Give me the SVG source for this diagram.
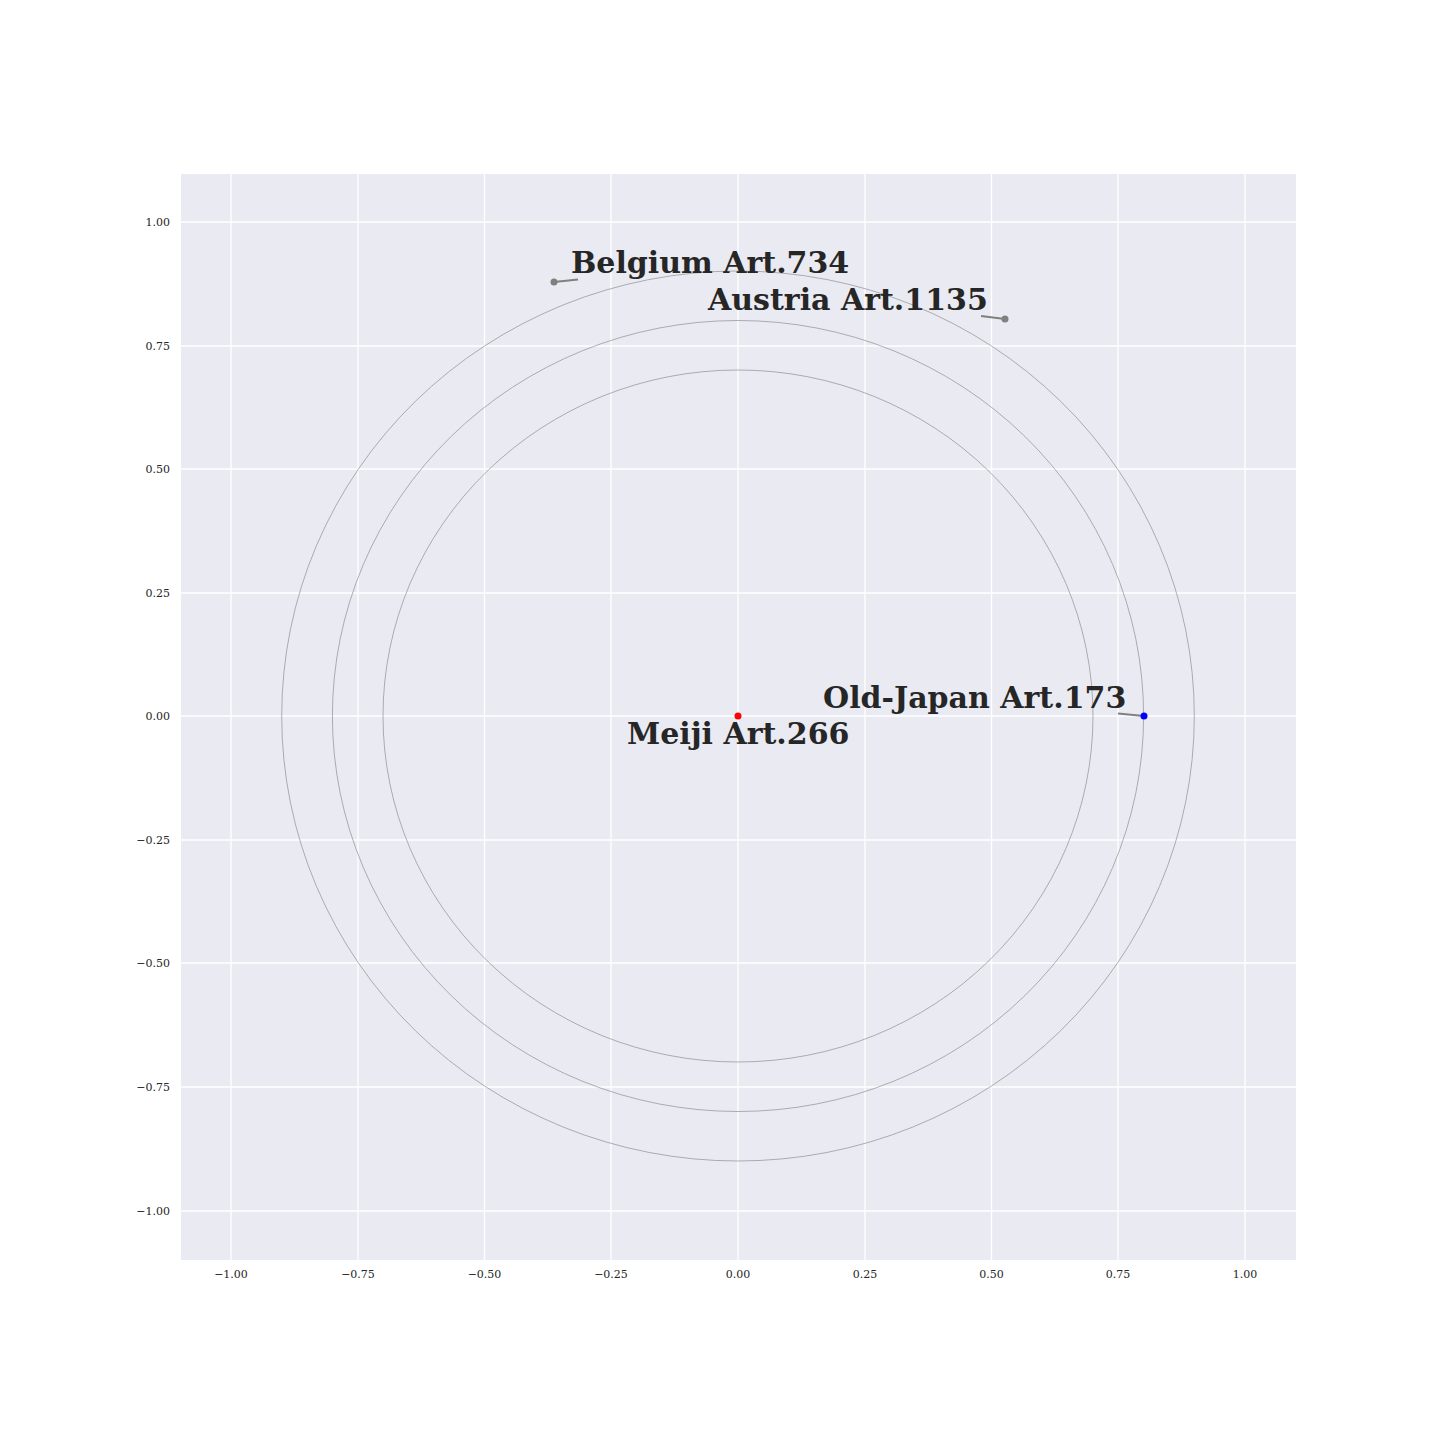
<svg xmlns="http://www.w3.org/2000/svg" width="1440" height="1440" viewBox="0 0 1440 1440">
<style>
.tick{font-family:"DejaVu Serif",serif;font-size:11px;fill:#262626}
.lab{font-family:"DejaVu Serif",serif;font-size:30px;font-weight:bold;fill:#262626}
.grid line{stroke:#ffffff;stroke-width:1.3}
.ring{fill:none;stroke:#808080;stroke-width:0.6}
.conn{stroke:#808080;stroke-width:2;fill:none}
</style>
<rect width="1440" height="1440" fill="#ffffff"/>
<rect x="181" y="174" width="1115" height="1086" fill="#EAEAF2"/>
<g class="grid">
<line x1="231" y1="174" x2="231" y2="1260"/>
<line x1="358" y1="174" x2="358" y2="1260"/>
<line x1="484.5" y1="174" x2="484.5" y2="1260"/>
<line x1="611" y1="174" x2="611" y2="1260"/>
<line x1="738" y1="174" x2="738" y2="1260"/>
<line x1="865" y1="174" x2="865" y2="1260"/>
<line x1="991.5" y1="174" x2="991.5" y2="1260"/>
<line x1="1118" y1="174" x2="1118" y2="1260"/>
<line x1="1245" y1="174" x2="1245" y2="1260"/>
<line x1="181" y1="222" x2="1296" y2="222"/>
<line x1="181" y1="346" x2="1296" y2="346"/>
<line x1="181" y1="469" x2="1296" y2="469"/>
<line x1="181" y1="593" x2="1296" y2="593"/>
<line x1="181" y1="716" x2="1296" y2="716"/>
<line x1="181" y1="840" x2="1296" y2="840"/>
<line x1="181" y1="963" x2="1296" y2="963"/>
<line x1="181" y1="1087" x2="1296" y2="1087"/>
<line x1="181" y1="1211" x2="1296" y2="1211"/>
</g>
<g id="axes-labels">
<text class="tick" x="170" y="226" text-anchor="end">1.00</text>
<text class="tick" x="170" y="350" text-anchor="end">0.75</text>
<text class="tick" x="170" y="473" text-anchor="end">0.50</text>
<text class="tick" x="170" y="597" text-anchor="end">0.25</text>
<text class="tick" x="170" y="720" text-anchor="end">0.00</text>
<text class="tick" x="170" y="844" text-anchor="end">−0.25</text>
<text class="tick" x="170" y="967" text-anchor="end">−0.50</text>
<text class="tick" x="170" y="1091" text-anchor="end">−0.75</text>
<text class="tick" x="170" y="1215" text-anchor="end">−1.00</text>
<text class="tick" x="231" y="1278" text-anchor="middle">−1.00</text>
<text class="tick" x="358" y="1278" text-anchor="middle">−0.75</text>
<text class="tick" x="484.5" y="1278" text-anchor="middle">−0.50</text>
<text class="tick" x="611" y="1278" text-anchor="middle">−0.25</text>
<text class="tick" x="738" y="1278" text-anchor="middle">0.00</text>
<text class="tick" x="865" y="1278" text-anchor="middle">0.25</text>
<text class="tick" x="991.5" y="1278" text-anchor="middle">0.50</text>
<text class="tick" x="1118" y="1278" text-anchor="middle">0.75</text>
<text class="tick" x="1245" y="1278" text-anchor="middle">1.00</text>
</g>
<g id="rings">
<ellipse class="ring" cx="738" cy="716" rx="355" ry="346"/>
<ellipse class="ring" cx="738" cy="716" rx="405.6" ry="395.5"/>
<ellipse class="ring" cx="738" cy="716" rx="456.3" ry="445"/>
</g>
<g id="connectors">
<line class="conn" x1="554" y1="282" x2="578" y2="279.5"/>
<line class="conn" x1="981" y1="316" x2="1005" y2="319"/>
<line class="conn" x1="1118" y1="713.5" x2="1144" y2="716"/>
</g>
<g id="meiji">
<circle cx="738" cy="716" r="3.5" fill="#ff0000"/>
<text class="lab" x="627" y="744">Meiji Art.266</text>
</g>
<g id="old-japan">
<circle cx="1144" cy="716" r="3.5" fill="#0000ff"/>
<text class="lab" x="823" y="708">Old-Japan Art.173</text>
</g>
<g id="belgium">
<circle cx="554" cy="282" r="3.5" fill="#808080"/>
<text class="lab" x="571" y="273">Belgium Art.734</text>
</g>
<g id="austria">
<circle cx="1005" cy="319" r="3.5" fill="#808080"/>
<text class="lab" x="708" y="310">Austria Art.1135</text>
</g>
</svg>
